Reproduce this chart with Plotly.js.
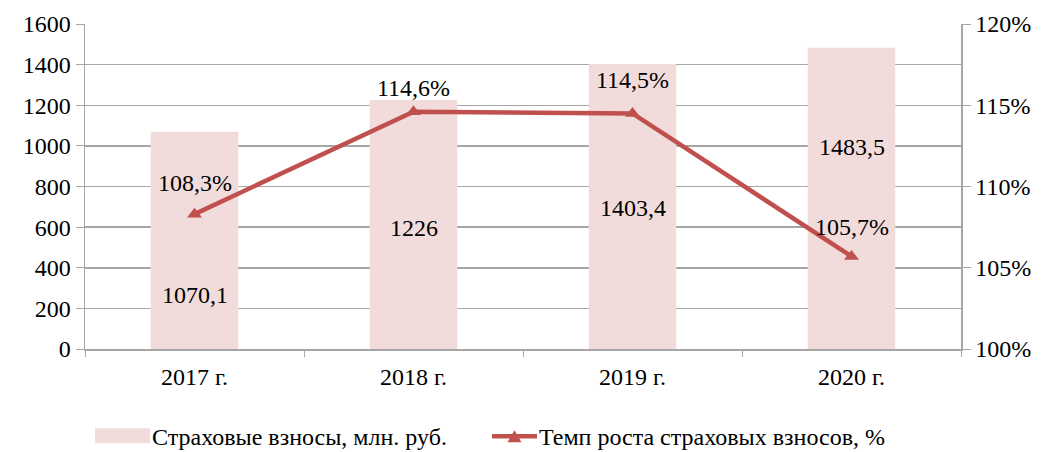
<!DOCTYPE html>
<html><head><meta charset="utf-8">
<script src="https://cdn.plot.ly/plotly-3.0.1.min.js"></script>
<style>
html,body{margin:0;padding:0;background:#fff}
#wrap{position:relative;width:1047px;height:452px}
.lg{position:absolute;top:437px;transform:translateY(-50%);font-family:'Liberation Serif';font-size:24px;line-height:28px;color:#000;white-space:nowrap;z-index:5}
</style>
</head><body><div id="wrap"><div id="chart"></div>
<div class="lg" id="lg1" style="left:152px"></div>
<div class="lg" id="lg2" style="left:539px"></div></div>
<script>
const categories = ["2017 г.", "2018 г.", "2019 г.", "2020 г."];
const premiums = [1070.1, 1226, 1403.4, 1483.5];
const growthRate = [108.3, 114.6, 114.5, 105.7];
const premiumsName = "Страховые взносы, млн. руб.";
const growthName = "Темп роста страховых взносов, %";
// label anchor heights (in left-axis units) as placed in the reference
const premiumLabelY = [267, 596, 694, 994];
const growthLabelOffset = [31, 24, 33, 29];

document.getElementById('lg1').textContent = premiumsName;
document.getElementById('lg2').textContent = growthName;

const fmt = v => String(v).replace('.', ',');
const FS = 24;
const GRID = "#a6a6a6";
const BAR = '#f2dcdb', LINE = '#c0504d';

function draw(){
const TF = () => ({family:'Liberation Serif', size:FS, color:'#000'});
const traces = [
  {type:'bar', x:categories, y:premiums, name:premiumsName, marker:{color:BAR}, width:0.4, yaxis:'y', hoverinfo:'skip'},
  {type:'scatter', mode:'lines+markers', x:categories, y:growthRate, name:growthName, yaxis:'y2',
   line:{color:LINE, width:4.5}, marker:{symbol:'triangle-up', size:13, color:LINE}, hoverinfo:'skip'}
];

const annotations = [];
categories.forEach((c,i)=>{
  annotations.push({x:c, y:premiumLabelY[i], xref:'x', yref:'y', text:fmt(premiums[i]), showarrow:false, font:TF()});
  annotations.push({x:c, y:growthRate[i], xref:'x', yref:'y2', text:fmt(growthRate[i])+'%', showarrow:false,
    yshift:growthLabelOffset[i], font:TF()});
});

// legend swatches (pixel geometry converted to paper coords)
const L=85, W=876, B=349.5, H=326;
const px = x => (x-L)/W, py = y => (B-y)/H;
const shapes = [
  {type:'rect', xref:'paper', yref:'paper', x0:px(95), x1:px(150), y0:py(444), y1:py(429), fillcolor:BAR, line:{width:0}},
  {type:'line', xref:'paper', yref:'paper', x0:px(492), x1:px(537), y0:py(437), y1:py(437), line:{color:LINE, width:4.5}},
  {type:'path', xref:'paper', yref:'paper', path:`M ${px(507.5)} ${py(443)} L ${px(521.5)} ${py(443)} L ${px(514.5)} ${py(431)} Z`, fillcolor:LINE, line:{width:0}}
];

const layout = {
  width:1047, height:452,
  margin:{l:85, r:86, t:23.5, b:102.5, pad:0},
  paper_bgcolor:'#fff', plot_bgcolor:'#fff',
  font:TF(),
  showlegend:false,
  bargap:0.6,
  xaxis:{type:'category', showline:true, linecolor:GRID, linewidth:1.5, ticks:'outside', ticklen:6, tickcolor:GRID,
    tickson:'boundaries', showgrid:false, tickfont:TF(), ticklabelstandoff:6},
  yaxis:{range:[0,1600], dtick:200, showline:true, linecolor:GRID, linewidth:1.5, ticks:'outside', ticklen:8,
    tickcolor:GRID, showgrid:true, gridcolor:GRID, gridwidth:1.5, zeroline:false, tickfont:TF()},
  yaxis2:{overlaying:'y', side:'right', range:[100,120], dtick:5, ticksuffix:'%', showline:true, linecolor:GRID,
    linewidth:1.5, ticks:'outside', ticklen:8, tickcolor:GRID, showgrid:false, zeroline:false, tickfont:TF()},
  shapes:shapes,
  annotations:annotations
};
Plotly.newPlot('chart', traces, layout, {staticPlot:true});
}
requestAnimationFrame(()=>setTimeout(draw, 50));
</script></body></html>
